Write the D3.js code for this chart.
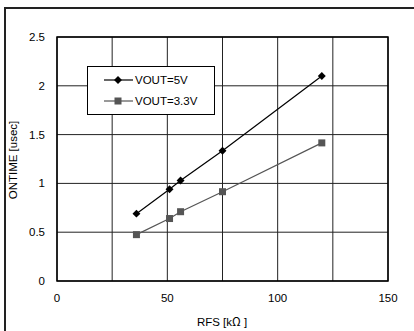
<!DOCTYPE html>
<html>
<head>
<meta charset="utf-8">
<style>
  body { margin: 0; background: #fff; font-family: "Liberation Sans", Arial, sans-serif; }
  svg text { font-size: 11.5px; fill: #000; }
</style>
</head>
<body>
<svg id="graph" width="414" height="331"></svg>
<script src="https://cdn.jsdelivr.net/npm/d3@7"></script>
<script>
// data
var rfs = [36, 51, 56, 75, 120];
var vout5 = [0.69, 0.94, 1.03, 1.335, 2.1];
var vout33 = [0.475, 0.64, 0.71, 0.915, 1.415];
var seriesNames = ['VOUT=5V', 'VOUT=3.3V'];
var xTicks = [0, 50, 100, 150];
var yTicks = [0, 0.5, 1, 1.5, 2, 2.5];

var svg = d3.select('#graph');

// outer frame (only left and top visible)
svg.append('path')
    .attr('d', 'M5,331 V8 H414')
    .attr('fill', 'none')
    .attr('stroke', '#222')
    .attr('stroke-width', 2);

var margin = { left: 57, top: 37, right: 388, bottom: 281 };

var x = d3.scaleLinear().domain([0, 150]).range([margin.left, margin.right]);
var y = d3.scaleLinear().domain([0, 2.5]).range([margin.bottom, margin.top]);

// grid
svg.append('g').selectAll('line')
    .data(d3.range(0, 151, 25))
    .enter().append('line')
    .attr('x1', d => x(d)).attr('x2', d => x(d))
    .attr('y1', y(0)).attr('y2', y(2.5))
    .attr('stroke', '#222').attr('stroke-width', 1);

svg.append('g').selectAll('line')
    .data(yTicks)
    .enter().append('line')
    .attr('x1', x(0)).attr('x2', x(150))
    .attr('y1', d => y(d)).attr('y2', d => y(d))
    .attr('stroke', '#222').attr('stroke-width', 1);

// plot border
svg.append('rect')
    .attr('x', x(0)).attr('y', y(2.5))
    .attr('width', x(150) - x(0)).attr('height', y(0) - y(2.5))
    .attr('fill', 'none').attr('stroke', '#000').attr('stroke-width', 1.5);

// tick labels
svg.append('g').selectAll('text')
    .data(yTicks)
    .enter().append('text')
    .attr('x', 45).attr('y', d => y(d) + 4)
    .attr('text-anchor', 'end')
    .text(d => d);

svg.append('g').selectAll('text')
    .data(xTicks)
    .enter().append('text')
    .attr('x', d => x(d)).attr('y', 302)
    .attr('text-anchor', 'middle')
    .text(d => d);

// axis titles
var xt = svg.append('text')
    .attr('x', 222).attr('y', 326)
    .attr('text-anchor', 'middle');
xt.append('tspan').text('RFS [k');
xt.append('tspan').style('font-family', '"Noto Sans CJK JP"').text('Ω');
xt.append('tspan').text(' ]');

svg.append('text')
    .attr('transform', 'translate(17,160) rotate(-90)')
    .attr('text-anchor', 'middle')
    .text('ONTIME  [usec]');

// series
var line = d3.line().x(d => x(d[0])).y(d => y(d[1]));
var s5 = d3.zip(rfs, vout5);
var s33 = d3.zip(rfs, vout33);

svg.append('path').datum(s5)
    .attr('d', line).attr('fill', 'none')
    .attr('stroke', '#000').attr('stroke-width', 1.2);
svg.append('path').datum(s33)
    .attr('d', line).attr('fill', 'none')
    .attr('stroke', '#555').attr('stroke-width', 1.2);

var diamond = d3.symbol().type(d3.symbolDiamond2).size(40);
svg.append('g').selectAll('path')
    .data(s5)
    .enter().append('path')
    .attr('d', diamond)
    .attr('transform', d => 'translate(' + x(d[0]) + ',' + y(d[1]) + ')')
    .attr('fill', '#000');

svg.append('g').selectAll('rect')
    .data(s33)
    .enter().append('rect')
    .attr('x', d => x(d[0]) - 3.5).attr('y', d => y(d[1]) - 3.5)
    .attr('width', 7).attr('height', 7)
    .attr('fill', '#555');

// legend
var legend = svg.append('g');
legend.append('rect')
    .attr('x', 87.5).attr('y', 66.5).attr('width', 127).attr('height', 48)
    .attr('fill', '#fff').attr('stroke', '#000').attr('stroke-width', 1);

seriesNames.forEach(function (name, i) {
    var ly = 80 + i * 21;
    var col = i == 0 ? '#000' : '#555';
    legend.append('line')
        .attr('x1', 104).attr('x2', 133).attr('y1', ly).attr('y2', ly)
        .attr('stroke', col).attr('stroke-width', 1.2);
    if (i == 0) {
        legend.append('path').attr('d', diamond)
            .attr('transform', 'translate(118,' + ly + ')').attr('fill', col);
    } else {
        legend.append('rect').attr('x', 114.5).attr('y', ly - 3.5)
            .attr('width', 7).attr('height', 7).attr('fill', col);
    }
    legend.append('text')
        .attr('x', 135).attr('y', ly + 4)
        .text(name);
});
</script>
</body>
</html>
